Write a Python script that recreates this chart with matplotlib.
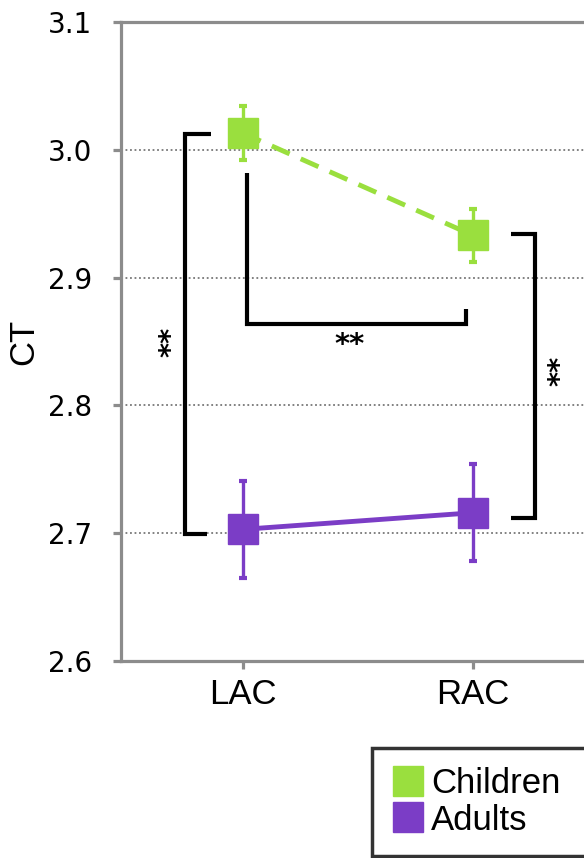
import matplotlib
matplotlib.use('Agg')
from matplotlib import pyplot as plt
from matplotlib.lines import Line2D

regions = ['LAC', 'RAC']
children_ct = [3.013, 2.933]
children_err = [0.021, 0.021]
adults_ct = [2.703, 2.716]
adults_err = [0.038, 0.038]
yticks = [2.6, 2.7, 2.8, 2.9, 3.0, 3.1]

GREEN = '#9ADF3E'
PURPLE = '#7B3DC6'
GRAY = '#8C8C8C'

fig = plt.figure(figsize=(5.84, 8.58), dpi=100)
ax = fig.add_axes([0.2072, 0.2296, 0.8116, 0.7448])

x = [0, 1]
ax.errorbar(x, children_ct, yerr=children_err, color=GREEN, ls=(0, (4, 2.5)),
            lw=3.5, marker='s', ms=21, elinewidth=2.4, capsize=3, capthick=3,
            zorder=3)
ax.errorbar(x, adults_ct, yerr=adults_err, color=PURPLE, ls='-',
            lw=3.5, marker='s', ms=22, elinewidth=2.4, capsize=3, capthick=3,
            zorder=3)

# significance brackets
bk = dict(color='black', lw=3, solid_joinstyle='miter', solid_capstyle='butt', zorder=2)
ax.plot([-0.14, -0.25, -0.25, -0.155], [3.0125, 3.0125, 2.6995, 2.6995], **bk)
ax.plot([0.017, 0.017, 0.97, 0.97], [2.982, 2.8635, 2.8635, 2.8755], **bk)
ax.plot([1.165, 1.27, 1.27, 1.165], [2.934, 2.934, 2.7115, 2.7115], **bk)
star = dict(ha='center', va='center', fontsize=21, fontweight='bold')
ax.text(-0.31, 2.85, '**', rotation=90, **star)
ax.text(0.465, 2.847, '**', **star)
ax.text(1.38, 2.827, '**', rotation=90, **star)

ax.set_xlim(-0.53, 1.53)
ax.set_ylim(2.6, 3.1)
ax.set_xticks(x)
ax.set_xticklabels(regions, family='Liberation Sans', fontsize=25)
ax.set_yticks(yticks)
ax.set_yticklabels([f'{v:.1f}' for v in yticks], fontsize=20)
ax.set_ylabel('CT', family='Liberation Sans', fontsize=25)
ax.yaxis.set_label_coords(-0.171, 0.5)

for g in [2.7, 2.8, 2.9, 3.0]:
    ax.axhline(g, color='#777777', lw=1.3, ls=(0, (1, 1.5)), zorder=1)

for s in ax.spines.values():
    s.set_color(GRAY)
    s.set_linewidth(2.3)
ax.tick_params(colors=GRAY, width=2.3, length=6, labelcolor='black')
ax.tick_params(axis='x', pad=6)
ax.tick_params(axis='y', pad=15)

handles = [Line2D([], [], ls='none', marker='s', ms=21, color=GREEN),
           Line2D([], [], ls='none', marker='s', ms=21, color=PURPLE)]
leg = fig.legend(handles, ['Children', 'Adults'], loc='upper left',
                 bbox_to_anchor=(372 / 584, 1 - 748 / 858, 230 / 584, 0),
                 mode='expand',
                 prop={'family': 'Liberation Sans', 'size': 25},
                 frameon=True, fancybox=False, edgecolor='black',
                 handlelength=0.95, handletextpad=0.2, labelspacing=0.1,
                 borderpad=0.55, borderaxespad=0)
leg.get_frame().set_linewidth(2.5)

fig.savefig('out.png', dpi=100)
